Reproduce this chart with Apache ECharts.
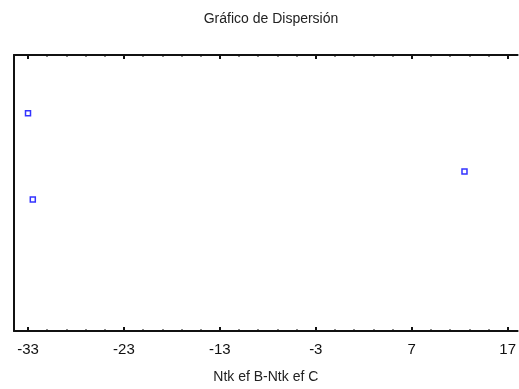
<!DOCTYPE html>
<html><head><meta charset="utf-8">
<script src="https://cdn.jsdelivr.net/npm/echarts@6/dist/echarts.min.js"></script>
<style>html,body{margin:0;padding:0;background:#fff}#c{width:519px;height:389px}</style>
</head><body><div id="c"></div>
<script>
const titleText = "Gráfico de Dispersión";
const xName = "Ntk ef B-Ntk ef C";
const xTicks = [-33, -23, -13, -3, 7, 17];
const xMinorTicks = [-31, -29, -27, -25, -21, -19, -17, -15, -11, -9, -7, -5, -1, 1, 3, 5, 9, 11, 13, 15];
const xValues = [-33, -32.5, 12.5];
const yValues = [78.9, 47.6, 57.8];

const xMin = -34.46, xMax = 18.04;
const yMin = 0, yMax = 100;
const font = "'Liberation Sans', Arial, sans-serif";

function xa(pos, ticks, len, showLine, showLabel) {
  return {
    type: 'value', position: pos, min: xMin, max: xMax,
    axisLine: {show: showLine, onZero: false, lineStyle: {color: '#111', width: 2}},
    axisTick: {show: true, inside: true, length: len, customValues: ticks, lineStyle: {color: '#111', width: 2}},
    axisLabel: showLabel ? {show: true, customValues: ticks, color: '#111', fontSize: 15, fontFamily: font, margin: 11} : {show: false},
    splitLine: {show: false},
    name: showLabel ? xName : '', nameLocation: 'middle', nameGap: 39,
    nameTextStyle: {color: '#222', fontSize: 14, fontFamily: font}
  };
}

const chart = echarts.init(document.getElementById('c'), null, {renderer: 'canvas'});
chart.setOption({
  animation: false,
  backgroundColor: '#fff',
  title: {text: titleText, left: 266, textAlign: 'center', top: 7,
    textStyle: {fontSize: 14, fontWeight: 'normal', color: '#222', fontFamily: font}},
  grid: {left: 14, right: 1, top: 55, bottom: 53},
  xAxis: [
    xa('bottom', xTicks, 4, true, true),
    xa('bottom', xMinorTicks, 1.5, false, false),
    xa('top', xTicks, 4, true, false),
    xa('top', xMinorTicks, 1.5, false, false)
  ],
  yAxis: [{
    type: 'value', min: yMin, max: yMax, position: 'left',
    axisLine: {show: true, onZero: false, lineStyle: {color: '#111', width: 2}},
    axisTick: {show: true, inside: true, length: 3, customValues: [yMin, yMax], lineStyle: {color: '#111', width: 2}},
    axisLabel: {show: false}, splitLine: {show: false}
  }],
  series: [{
    type: 'scatter', xAxisIndex: 0, yAxisIndex: 0,
    data: xValues.map((x, i) => [x, yValues[i]]),
    symbol: 'rect', symbolSize: 5,
    itemStyle: {color: '#fff', borderColor: '#0000ff', borderWidth: 1.5}
  }]
});
</script></body></html>
